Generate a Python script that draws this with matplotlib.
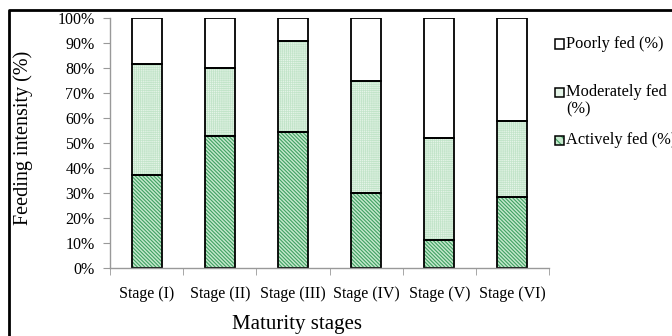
import numpy as np
import matplotlib.pyplot as plt
from matplotlib.patches import Rectangle
from matplotlib.lines import Line2D

plt.rcParams['font.family'] = ['Liberation Serif', 'DejaVu Serif']

stages = ['Stage (I)', 'Stage (II)', 'Stage (III)', 'Stage (IV)', 'Stage (V)', 'Stage (VI)']
actively = [37.0, 53.0, 54.5, 30.0, 11.0, 28.5]
moderately = [44.5, 27.0, 36.5, 45.0, 41.0, 30.5]
poorly = [18.5, 20.0, 9.0, 25.0, 48.0, 41.0]

stripe_face = '#c4e8cc'
stripe_line = '#40a062'
dot_face = '#e4f4e7'
dot_line = '#c2e4c9'
stripe_hatch = '\\' * 9
dot_hatch = '+' * 8

fig = plt.figure(figsize=(6.72, 3.36), dpi=100)
ax = fig.add_axes([0.1637, 0.2024, 0.6533, 0.744])

x = np.arange(len(stages))
w = 0.41
act = np.array(actively)
mod = np.array(moderately)
poor = np.array(poorly)

# coloured fills with hatching, then black outlines on top
plt.rcParams['hatch.linewidth'] = 0.8
ax.bar(x, act, w, color=stripe_face, edgecolor=stripe_line, hatch=stripe_hatch, linewidth=0)
plt.rcParams['hatch.linewidth'] = 0.5
ax.bar(x, mod, w, bottom=act, color=dot_face, edgecolor=dot_line, hatch=dot_hatch, linewidth=0)
ax.bar(x, poor, w, bottom=act + mod, color='white', linewidth=0)
for bottoms, vals in [(0, act), (act, mod), (act + mod, poor)]:
    ax.bar(x, vals, w, bottom=bottoms, fill=False, edgecolor='black', linewidth=1.3)

ax.set_xlim(-0.5, len(stages) - 0.5)
ax.set_ylim(0, 100)
ax.set_yticks(np.arange(0, 101, 10))
ax.set_yticklabels([f'{v}%' for v in range(0, 101, 10)], fontsize=11.5)
ax.set_xticks(x)
ax.set_xticklabels(stages, fontsize=11.5)
ax.set_xticks(np.arange(-0.5, len(stages), 1), minor=True)
ax.tick_params(axis='x', which='major', length=0, pad=13)
ax.tick_params(axis='x', which='minor', length=5, color='#999999', direction='out')
ax.tick_params(axis='y', length=5, color='#999999', pad=6)

for side in ['top', 'right']:
    ax.spines[side].set_visible(False)
for side in ['left', 'bottom']:
    ax.spines[side].set_color('#999999')
    ax.spines[side].set_linewidth(1.0)

fig.text(0.034, 0.59, 'Feeding intensity (%)', rotation=90, ha='center', va='center', fontsize=14.5)
fig.text(0.442, 0.035, 'Maturity stages', ha='center', va='center', fontsize=15)

# legend drawn by hand so the wrapped label keeps its box on the first line
legend_rows = [
    ('Poorly fed (%)', 'white', None, None, 44),
    ('Moderately fed\n(%)', dot_face, None, None, 92),
    ('Actively fed (%)', stripe_face, stripe_line, '\\' * 4, 140),
]
plt.rcParams['hatch.linewidth'] = 0.8
for label, face, hcol, hatch, ypx in legend_rows:
    yc = 1 - ypx / 336
    box = Rectangle((555 / 672, yc - 4.5 / 336), 9 / 672, 9 / 336, transform=fig.transFigure,
                    facecolor=face, edgecolor=hcol if hcol else face, hatch=hatch, linewidth=0)
    fig.add_artist(box)
    fig.add_artist(Rectangle((555 / 672, yc - 4.5 / 336), 9 / 672, 9 / 336, transform=fig.transFigure,
                             fill=False, edgecolor='black', linewidth=1.1))
    fig.text(566 / 672, yc + 8 / 336, label, ha='left', va='top', fontsize=11.8, linespacing=1.1)

# frame line on the left and top of the figure
fig.add_artist(Line2D([0.0134, 0.0134, 1.0], [0.0, 0.9688, 0.9688],
                      transform=fig.transFigure, color='black', linewidth=2.0))

fig.savefig('out.png', dpi=100)
